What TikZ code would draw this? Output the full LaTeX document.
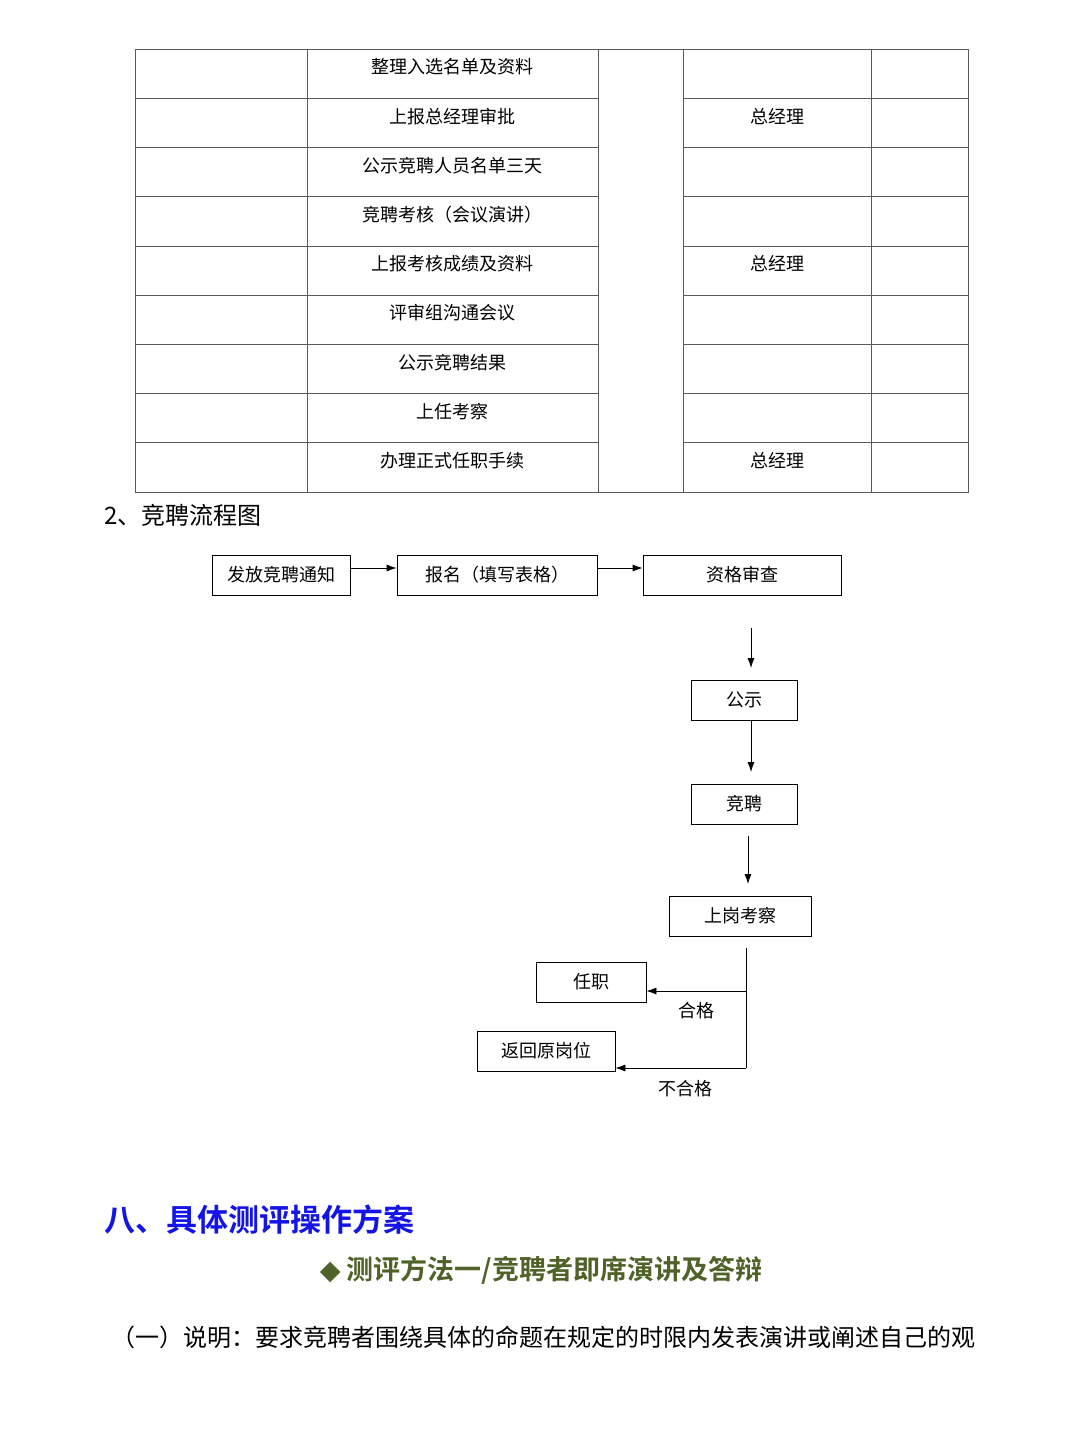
\documentclass[tikz,border=0pt]{standalone}
\usepackage{fontspec}
\setmainfont{Noto Sans CJK SC}[BoldFont={Noto Sans CJK SC Bold}]
\newfontfamily\symfont{DejaVu Sans}
\usepackage{xcolor}
\usetikzlibrary{arrows.meta, positioning}
\definecolor{headblue}{RGB}{20,20,230}
\definecolor{olivegreen}{RGB}{79,98,40}
\definecolor{linegray}{RGB}{90,90,90}

\begin{document}
\begin{tikzpicture}[x=1pt, y=-1pt,
    flowbox/.style={draw, thick, minimum height=40pt, inner sep=0pt, font=\fontsize{18}{20}\selectfont},
    flowarrow/.style={thick, -{Latex[length=10pt, width=7pt]}},
    cell/.style={font=\fontsize{18}{20}\selectfont}]
    \useasboundingbox (0,0) rectangle (1080,1440);

    % Table
    \draw[linegray] (135,49) rectangle (968,492);
    \foreach \x in {307,598,683,871}
        \draw[linegray] (\x,49) -- (\x,492);
    \foreach \i in {1,...,8} {
        \draw[linegray] (135,49+\i*49.2) -- (598,49+\i*49.2);
        \draw[linegray] (683,49+\i*49.2) -- (968,49+\i*49.2);
    }
    \foreach \t [count=\i from 0] in {整理入选名单及资料, 上报总经理审批, 公示竞聘人员名单三天,
        竞聘考核（会议演讲）, 上报考核成绩及资料, 评审组沟通会议, 公示竞聘结果, 上任考察, 办理正式任职手续}
        \node[cell] (row\i) at (452,67+\i*49.2) {\t};
    \foreach \i in {1,4,8}
        \node[cell] (boss\i) at (777,67+\i*49.2) {总经理};

    % Section title
    \node[anchor=west, font=\fontsize{24}{26}\selectfont] (flowtitle) at (101,515) {2、竞聘流程图};

    % Flow chart
    \node[flowbox, minimum width=138pt] (notice) at (281,575) {发放竞聘通知};
    \node[flowbox, minimum width=200pt] (signup) at (497,575) {报名（填写表格）};
    \node[flowbox, minimum width=198pt] (check) at (742,575) {资格审查};
    \node[flowbox, minimum width=106pt] (publish) at (744,700) {公示};
    \node[flowbox, minimum width=106pt] (compete) at (744,804) {竞聘};
    \node[flowbox, minimum width=142pt] (trial) at (740,916) {上岗考察};
    \node[flowbox, minimum width=110pt] (appoint) at (591,982) {任职};
    \node[flowbox, minimum width=138pt] (back) at (546,1051) {返回原岗位};

    \coordinate (downtop) at (751,628);
    \coordinate (splittop) at (746,948);
    \coordinate (splitmid) at (746,991);
    \coordinate (splitend) at (746,1068);

    \draw[flowarrow] (notice.east |- 0,568) -- (signup.west |- 0,568);
    \draw[flowarrow] (signup.east |- 0,568) -- (check.west |- 0,568);
    \draw[flowarrow] (downtop) -- (751,668);
    \draw[flowarrow] (751,720) -- (751,772);
    \draw[flowarrow] (748,836) -- (748,884);
    \draw[thick] (splittop) -- (splitend);
    \draw[flowarrow] (splitmid) -- (appoint.east |- splitmid);
    \draw[flowarrow] (splitend) -- (back.east |- splitend);
    \node[font=\fontsize{18}{20}\selectfont] (passlabel) at (696,1011) {合格};
    \node[font=\fontsize{18}{20}\selectfont] (faillabel) at (685,1089) {不合格};

    % Headings
    \node[anchor=west, text=headblue, font=\bfseries\fontsize{31}{34}\selectfont] (sect) at (101,1220) {八、具体测评操作方案};
    \node[text=olivegreen, font=\bfseries\fontsize{27}{30}\selectfont] (method) at (541,1270)
        {{\symfont ◆} 测评方法一/竞聘者即席演讲及答辩};
    \node[anchor=west, font=\fontsize{24}{26}\selectfont] (desc) at (108,1337)
        {（一）说明：要求竞聘者围绕具体的命题在规定的时限内发表演讲或阐述自己的观};
\end{tikzpicture}
\end{document}
